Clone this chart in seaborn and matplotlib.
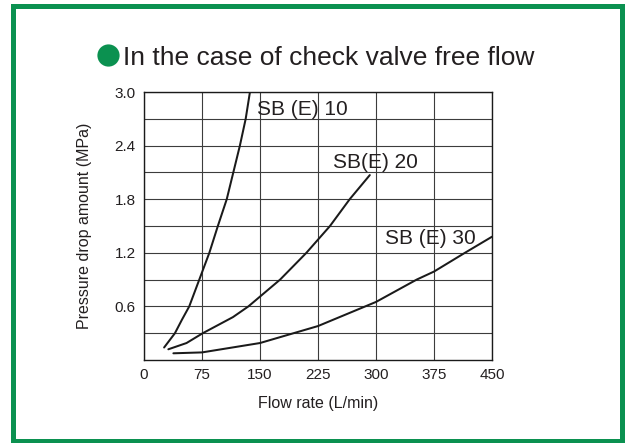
import matplotlib
matplotlib.use("Agg")
import matplotlib.pyplot as plt
from matplotlib.lines import Line2D
from matplotlib.patches import Rectangle
import numpy as np
import pandas as pd
import seaborn as sns

# Pressure drop curves, check valve free flow
sb10_flow = [26, 40, 49, 58.5, 71.5, 84.5, 95.5, 107, 115.5, 124, 131.5, 137]
sb10_dp = [0.14, 0.3, 0.45, 0.6, 0.9, 1.2, 1.5, 1.8, 2.1, 2.4, 2.7, 3.0]
sb20_flow = [31.5, 55, 76, 115, 135, 176, 210, 240.5, 266, 292]
sb20_dp = [0.12, 0.19, 0.3, 0.48, 0.6, 0.9, 1.2, 1.5, 1.8, 2.07]
sb30_flow = [38, 75, 150, 225, 300, 352.6, 375, 415, 450]
sb30_dp = [0.075, 0.085, 0.19, 0.38, 0.65, 0.9, 0.99, 1.2, 1.38]

series_names = ["SB (E) 10", "SB(E) 20", "SB (E) 30"]
label_pos = [(146, 2.8), (245, 2.21), (311, 1.365)]

x_ticks = [0, 75, 150, 225, 300, 375, 450]
y_ticks = [0.6, 1.2, 1.8, 2.4, 3.0]

title = "In the case of check valve free flow"
xlabel = "Flow rate (L/min)"
ylabel = "Pressure drop amount (MPa)"

GREEN = "#0b9150"
TEXT = "#231f20"

sns.set_theme(style="white")
plt.rcParams["font.family"] = ["Liberation Sans", "DejaVu Sans"]

df = pd.concat([
    pd.DataFrame({"flow": f, "dp": p, "series": n, "order": range(len(f))})
    for f, p, n in zip([sb10_flow, sb20_flow, sb30_flow],
                       [sb10_dp, sb20_dp, sb30_dp], series_names)
])

fig = plt.figure(figsize=(6.28, 4.43), dpi=100)
ax = fig.add_axes([144 / 628, 1 - 360 / 443, 348 / 628, 268 / 443])

sns.lineplot(data=df, x="flow", y="dp", hue="series", units="series",
             estimator=None, sort=False, palette=["#1a1a1a"] * 3,
             linewidth=1.45, legend=False, ax=ax, zorder=3)

ax.set_xlim(0, 450)
ax.set_ylim(0, 3.0)
ax.set_xticks(x_ticks)
ax.set_xticklabels([str(t) for t in x_ticks])
ax.set_yticks(y_ticks)
ax.set_yticklabels([f"{t:.1f}" for t in y_ticks])
ax.set_yticks(np.arange(0.3, 3.0, 0.3), minor=True)
ax.grid(True, which="both", axis="y", color="#3c3c3c", linewidth=0.8)
ax.grid(True, which="major", axis="x", color="#3c3c3c", linewidth=0.8)
ax.tick_params(axis="both", which="both", length=0, labelsize=11,
               labelcolor=TEXT)
ax.tick_params(axis="x", pad=6)
ax.tick_params(axis="y", pad=6)
for s in ax.spines.values():
    s.set_color("#1a1a1a")
    s.set_linewidth(1.0)

ax.set_xlabel(xlabel, fontsize=11.5, color=TEXT, labelpad=10)
ax.set_ylabel(ylabel, fontsize=11.5, color=TEXT, labelpad=16)

for name, (lx, ly) in zip(series_names, label_pos):
    ax.text(lx, ly, name, fontsize=15, color=TEXT, ha="left", va="center",
            zorder=4)

# Title with a green bullet
fig.add_artist(Line2D([108 / 628], [1 - 54.5 / 443], marker="o",
                      markersize=16, color=GREEN, markeredgewidth=0,
                      transform=fig.transFigure))
fig.text(123 / 628, 1 - 65 / 443, title, fontsize=19, color=TEXT,
         ha="left", va="baseline")

# Green frame around the panel
fig.add_artist(Rectangle((12.5 / 628, 1 - 440.5 / 443), 609 / 628, 435 / 443,
                         transform=fig.transFigure, fill=False,
                         edgecolor=GREEN, linewidth=3.6))

fig.savefig("out.png", dpi=100)
